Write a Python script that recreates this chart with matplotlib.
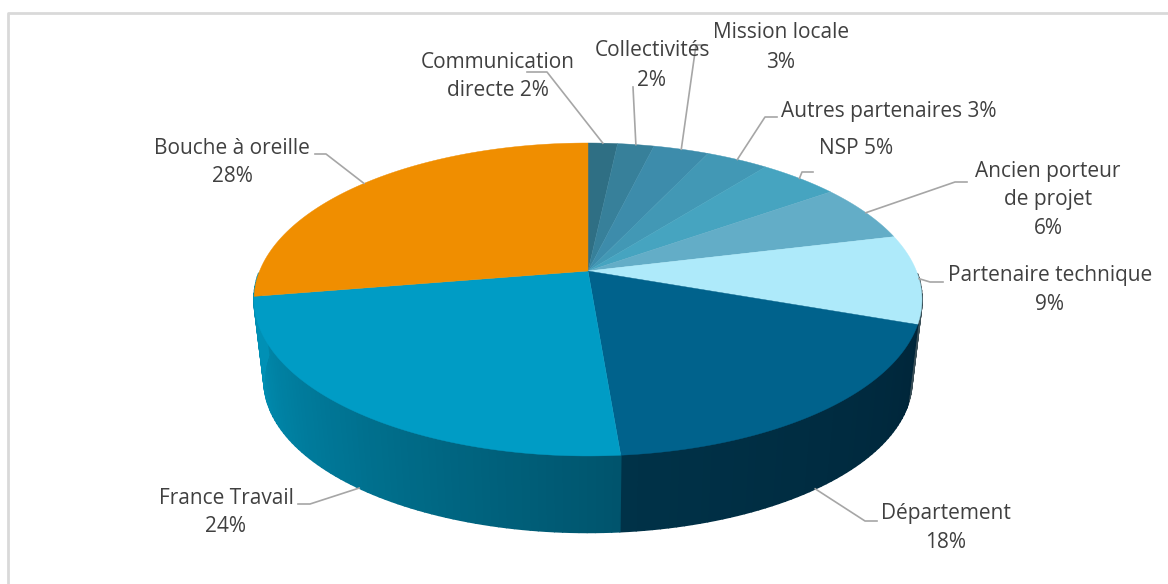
import numpy as np
import matplotlib
matplotlib.use("Agg")
import matplotlib.pyplot as plt
from matplotlib.collections import PolyCollection
from matplotlib.colors import to_rgb

plt.rcParams['font.family'] = ['Open Sans', 'DejaVu Sans']

# clockwise from 12 o'clock
categories = ["Communication directe", "Collectivités", "Mission locale", "Autres partenaires", "NSP",
              "Ancien porteur de projet", "Partenaire technique", "Département", "France Travail", "Bouche à oreille"]
values = [1.7, 2.1, 3.2, 3.6, 4.6, 6.0, 9.2, 18.3, 23.7, 27.6]
labels = ["Communication\ndirecte 2%", "Collectivités\n2%", "Mission locale\n3%", "Autres partenaires 3%", "NSP 5%",
          "Ancien porteur\nde projet\n6%", "Partenaire technique\n9%", "Département\n18%", "France Travail\n24%",
          "Bouche à oreille\n28%"]
colors = ["#2f6f84", "#37809a", "#3d8cab", "#4298b5", "#46a4c0", "#63adc7", "#aeeafa", "#00628c", "#009cc5", "#f08e00"]
# side wall colours, start and end of each slice (left edge of the wall stays blue under Bouche)
side_start = ["#2f6f84", "#37809a", "#3d8cab", "#4298b5", "#46a4c0", "#63adc7", "#3c5058", "#00263a", "#00546c", "#0090b5"]
side_end = ["#2f6f84", "#37809a", "#3d8cab", "#4298b5", "#46a4c0", "#63adc7", "#3c5058", "#003248", "#0090b5", "#0090b5"]

# label centre x, first line y, leader elbow and end (pixels)
label_pos = [(498, 62), (652, 51), (781, 33), (889, 111), (856, 149), (1048, 171), (1050, 276), (946, 514), (226, 498), (232, 148)]
elbows = [[(547, 72), (527, 72)], [(633, 87), (633, 87)], [(696, 45), (705, 45)], [(765, 117), (777, 117)],
          [(802, 172), (813, 172)], [(955, 182), (967, 182)], [(930, 282), (943, 282)], [(865, 521), (877, 521)],
          [(310, 504), (298, 504)], [(326, 154), (315, 154)]]

# perspective of the disc
CX, CY, BOTTOM_Y = 588, 271, 353
K, A, B = 0.182, 151.3, 328.4
SCALE = 0.97


def project(theta, lower=False):
	u, v = np.sin(theta), np.cos(theta)
	w = 1 + K * v
	x, y = B * u / w, A * v / w
	if lower:
		return CX + SCALE * x, BOTTOM_Y - SCALE * y
	return CX + x, CY - y


fig = plt.figure(figsize=(11.68, 5.84), dpi=100)
ax = fig.add_axes([0, 0, 1, 1])
ax.set_xlim(0, 1168)
ax.set_ylim(584, 0)
ax.axis('off')

edges = np.cumsum([0] + values) / sum(values) * 2 * np.pi

# frame
ax.plot([8, 8, 1168], [584, 13, 13], color='#d9d9d9', lw=2)

# side wall first, the top covers what should be hidden
quads, quad_colors = [], []
for i in range(len(values)):
	n = max(int(values[i] * 3), 2)
	t = np.linspace(edges[i], edges[i + 1], n + 1)
	c0, c1 = np.array(to_rgb(side_start[i])), np.array(to_rgb(side_end[i]))
	for j in range(n):
		mid = (t[j] + t[j + 1]) / 2
		if np.cos(mid) > -0.02:
			continue
		xa, ya = project(t[j:j + 2])
		xb, yb = project(t[j:j + 2], lower=True)
		quads.append([(xa[0], ya[0]), (xa[1], ya[1]), (xb[1], yb[1]), (xb[0], yb[0])])
		f = (j + 0.5) / n
		quad_colors.append(c0 + (c1 - c0) * f)
ax.add_collection(PolyCollection(quads, facecolors=quad_colors, edgecolors=quad_colors, linewidths=1.2, zorder=2))

# top face
for i in range(len(values)):
	t = np.linspace(edges[i], edges[i + 1], 80)
	x, y = project(t)
	ax.fill(np.r_[CX, x], np.r_[CY, y], color=colors[i], lw=0.3, zorder=3)

# labels and leaders
for i in range(len(values)):
	mid = (edges[i] + edges[i + 1]) / 2
	on_lower = categories[i] in ("Département", "France Travail")
	x0, y0 = project(mid, lower=on_lower)
	xs = [x0] + [p[0] for p in elbows[i]]
	ys = [y0] + [p[1] for p in elbows[i]]
	ax.plot(xs, ys, color='#a6a6a6', lw=1.2, zorder=4)
	lx, ly = label_pos[i]
	for n, line in enumerate(labels[i].split("\n")):
		ax.text(lx, ly + n * 29, line, ha='center', va='center', fontsize=15, color='#404040', zorder=5)

fig.savefig("out.png", dpi=100)
